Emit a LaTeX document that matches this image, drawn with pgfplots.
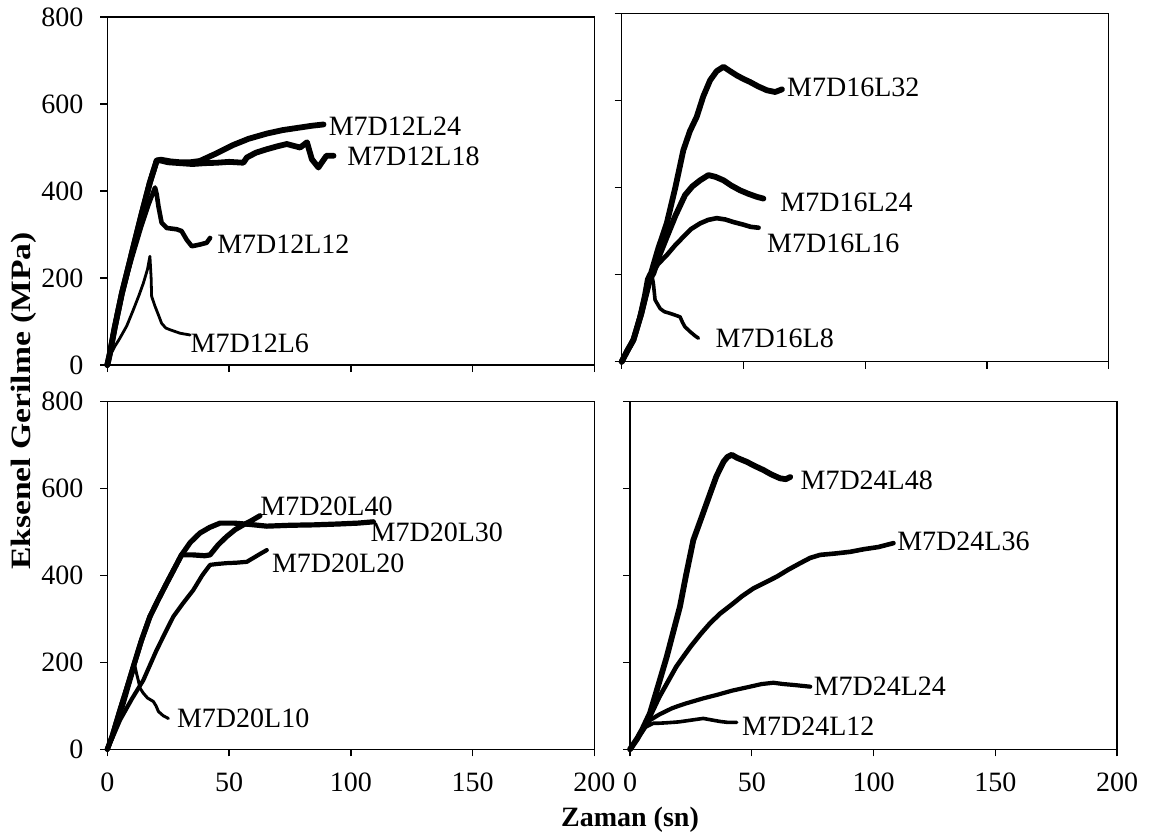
\documentclass[border=0pt]{standalone}
\usepackage{pgfplots}
\pgfplotsset{compat=1.18}
\usepackage{fontspec}
\setmainfont{Liberation Serif}
\newcommand{\lf}{\fontsize{14bp}{16bp}\selectfont}
\tikzset{
  lab/.style={anchor=west, inner sep=0pt, font=\lf},
  thk/.style={line width=2.9bp},
  med/.style={line width=2.3bp},
  thn/.style={line width=1.4bp},
}
\pgfplotsset{
  panel/.style={
    width=243.5bp, height=174bp, scale only axis,
    anchor=south west,
    xmin=0, xmax=200, ymin=0, ymax=800,
    xtick={0,50,100,150,200}, ytick={0,200,400,600,800},
    tick align=outside, xtick pos=bottom, ytick pos=left,
    major tick length=3.5bp,
    axis line style={line width=0.7bp, black},
    tick style={line width=0.7bp, black},
    ticklabel style={font=\lf},
    xticklabel style={yshift=-5bp},
    yticklabel style={xshift=-5bp},
    /pgf/number format/assume math mode=true,
    clip=false,
    every axis plot/.append style={black, line join=round, line cap=round, mark=none},
  },
}
\begin{document}
\begin{tikzpicture}[x=1bp,y=1bp]
\path[use as bounding box] (0,0) rectangle (576,418);
% ---------- top left ----------
\begin{axis}[panel, at={(53.65bp,235.5bp)}, xticklabels={}]
\addplot[thk] coordinates {(0,0) (1,25) (3,85) (6,165) (10,255) (14,345) (17.5,420) (20.3,470) (22,472) (26,468) (30,466) (34,466) (38,469) (45,487) (51.8,506) (58,520) (65.5,532) (72,540) (79.2,546) (84,550) (88.8,553)};
\addplot[thk] coordinates {(0,0) (1,25) (3,85) (6,165) (10,255) (14,345) (17.5,420) (20.3,470) (22,470) (25,466) (30,464) (35,462) (40,464) (45,465) (50,467) (55.9,465) (57.3,477) (61,488) (65.5,496) (70,503) (73.7,508) (76.4,504) (79.2,500) (82,512) (84,473) (86.7,454) (88,465) (90,481) (92.9,481)};
\addplot[med] coordinates {(0,0) (1,25) (3,85) (6,165) (10,245) (14,320) (17,370) (19.6,408) (20.3,392) (21,365) (22.3,327) (24.4,315) (28.5,312) (30.5,308) (32.6,288) (34.7,273) (38.1,277) (40.8,281) (42.2,292)};
\addplot[thn] coordinates {(0,0) (1,20) (3,42) (5,60) (8,90) (10.7,127) (13,160) (14.8,188) (16.5,220) (17.5,250) (18,200) (18.2,158) (19.6,135) (21,115) (22.3,96) (24,85) (25.8,81) (29.9,73) (34,69)};
\node[lab] at (axis cs:90.8,549) {M7D12L24};
\node[lab] at (axis cs:98.4,480) {M7D12L18};
\node[lab] at (axis cs:45,277) {M7D12L12};
\node[lab] at (axis cs:34.1,50) {M7D12L6};
\end{axis}
% ---------- top right ----------
\begin{axis}[panel, at={(310.85bp,237.15bp)}, xticklabels={}, yticklabels={}]
\addplot[thk] coordinates {(0,0) (2,22) (4.8,50) (8,110) (11.6,195) (15,260) (18.5,318) (22,400) (25.3,486) (28,530) (30.8,563) (33.5,610) (36.3,647) (39,668) (41.8,678) (44.5,668) (47.3,658) (50,650) (52.7,643) (56,633) (59.6,624) (63,620) (65.8,626)};
\addplot[thk] coordinates {(0,0) (2,22) (4.8,50) (8,110) (11.6,190) (13,203) (15.5,245) (18.5,287) (22,335) (26,383) (29,403) (32.2,417) (35.6,429) (38.5,425) (41.8,417) (45,405) (48.6,394) (52,386) (55.5,379) (58.2,375)};
\addplot[med] coordinates {(0,0) (2,22) (4.8,50) (8,110) (10,160) (11.6,195) (15,225) (18.5,245) (22,268) (25.3,287) (28.5,305) (32.2,318) (35.5,326) (39,330) (42.5,327) (45.9,321) (50,315) (53,310) (56.2,308)};
\addplot[line width=1.8bp] coordinates {(0,0) (2,22) (4.8,50) (7,100) (9,150) (10.3,190) (11.4,203) (12.5,195) (13,180) (13.7,142) (15.8,122) (17.5,115) (19.9,111) (22,107) (23.97,103) (25,90) (26,80) (28.1,69) (30,60) (31.5,54)};
\node[lab] at (axis cs:67.8,630) {M7D16L32};
\node[lab] at (axis cs:65,367) {M7D16L24};
\node[lab] at (axis cs:59.6,272) {M7D16L16};
\node[lab] at (axis cs:38.4,54) {M7D16L8};
\end{axis}
% ---------- bottom left ----------
\begin{axis}[panel, at={(53.65bp,43.35bp)}]
\addplot[line width=2.6bp] coordinates {(0,0) (2,30) (5.2,90) (8,140) (10.7,190) (14,250) (17.5,305) (21,345) (24.4,382) (27.5,415) (30.5,447) (34,475) (38,497) (42,510) (46.3,520) (52,520) (58.5,517) (65.5,513) (75,515) (85,516) (95,518) (103,520) (109.3,523)};
\addplot[line width=2.6bp] coordinates {(0,0) (2,30) (5.2,90) (8,140) (10.7,190) (14,250) (17.5,305) (21,345) (24.4,382) (27.5,415) (30.5,447) (35,447) (40,445) (42.2,447) (45.5,470) (49,489) (52.5,505) (55.9,516) (59,525) (62.7,537)};
\addplot[line width=2.1bp] coordinates {(0,0) (2,25) (5.2,67) (10,115) (14.8,159) (20,225) (23.5,265) (27.1,305) (31,335) (35.3,366) (39,400) (42.2,424) (45,426) (49,428) (53,429) (57.3,431) (60,440) (63,450) (65.5,458)};
\addplot[line width=1.5bp] coordinates {(0,0) (2,30) (4,65) (6.6,98) (9,145) (11.4,190) (12.2,170) (12.7,159) (13.5,140) (14.8,129) (16.5,118) (18.9,110) (20,100) (21,87) (23,77) (25.1,71)};
\node[lab] at (axis cs:62.7,558) {M7D20L40};
\node[lab] at (axis cs:108,498) {M7D20L30};
\node[lab] at (axis cs:67.5,428) {M7D20L20};
\node[lab] at (axis cs:28.5,71) {M7D20L10};
\end{axis}
% ---------- bottom right ----------
\begin{axis}[panel, at={(315bp,43.35bp)}, yticklabels={}]
\addplot[thk] coordinates {(0,0) (3,25) (5,45) (8.2,83) (11.5,145) (15.1,213) (18,275) (20.5,328) (23,400) (26,481) (29.5,535) (32.9,588) (35.5,628) (38.4,661) (40,672) (41.8,677) (44,670) (47.9,661) (51,652) (54.8,642) (58,632) (61.6,623) (64,621) (65.8,626)};
\addplot[med] coordinates {(0,0) (3,25) (5,45) (8.2,75) (12,120) (16,160) (19,190) (21.9,213) (25,237) (29,265) (32.9,290) (37,312) (42.5,336) (46,352) (50.7,370) (55,382) (60.3,397) (65,413) (69.9,428) (74,440) (78.1,447) (84,450) (90.4,454) (96,460) (102,465) (108.2,474)};
\addplot[line width=2.1bp] coordinates {(0,0) (3,25) (5,40) (8.2,67) (12,80) (17.1,94) (20,100) (23.3,106) (30,117) (35.6,125) (42,135) (49.3,144) (54,150) (58.9,153) (63,150) (67.1,148) (74,144)};
\addplot[line width=1.8bp] coordinates {(0,0) (3,25) (6,50) (9.6,60) (12,60) (15.1,61) (20,63) (25,67) (30.1,71) (33,68) (37,64) (40,62) (43.8,62)};
\node[lab] at (axis cs:69.9,619) {M7D24L48};
\node[lab] at (axis cs:109.6,477) {M7D24L36};
\node[lab] at (axis cs:75.3,144) {M7D24L24};
\node[lab] at (axis cs:45.9,52) {M7D24L12};
\end{axis}
% ---------- axis titles ----------
\node[rotate=90, inner sep=0pt, font=\lf\bfseries] at (12bp,217.5bp) {\scalebox{1.2}[1]{Eksenel Gerilme (MPa)}};
\node[anchor=base, inner sep=0pt, font=\lf\bfseries] at (315bp,5bp) {Zaman (sn)};
\end{tikzpicture}
\end{document}
